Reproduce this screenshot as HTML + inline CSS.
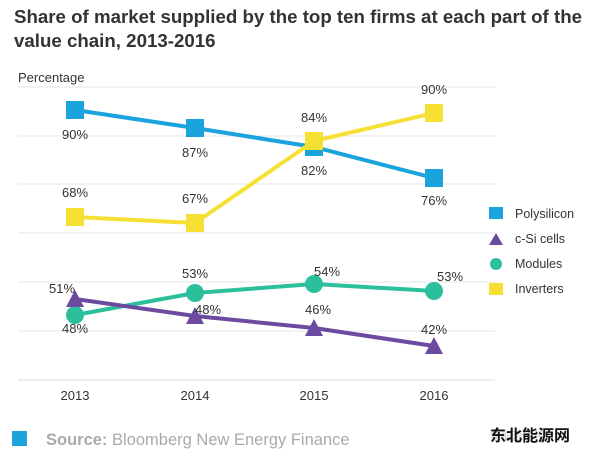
<!DOCTYPE html>
<html><head><style>
body{margin:0;background:#fff;width:600px;height:456px;overflow:hidden;font-family:"Liberation Sans","Noto Sans CJK SC",sans-serif}
</style></head><body>
<svg width="600" height="456" xmlns="http://www.w3.org/2000/svg" font-family="Liberation Sans, Noto Sans CJK SC, sans-serif">
<text x="14" y="23" font-size="18.7" font-weight="bold" fill="#333">Share of market supplied by the top ten firms at each part of the</text>
<text x="14" y="47" font-size="18.7" font-weight="bold" fill="#333">value chain, 2013-2016</text>
<text x="18" y="82" font-size="13" fill="#333">Percentage</text>
<g stroke="#e6e6e6" stroke-width="1">
<line x1="18" y1="87" x2="495" y2="87"/><line x1="18" y1="136" x2="495" y2="136"/>
<line x1="18" y1="184" x2="495" y2="184"/><line x1="18" y1="233" x2="495" y2="233"/>
<line x1="18" y1="282" x2="495" y2="282"/><line x1="18" y1="331" x2="495" y2="331"/>
<line x1="18" y1="380" x2="495" y2="380" stroke="#ddd"/>
</g>
<g font-size="13" fill="#333" text-anchor="middle">
<text x="75" y="400">2013</text><text x="195" y="400">2014</text><text x="314" y="400">2015</text><text x="434" y="400">2016</text>
</g>
<polyline points="75,110 195,128 314,147 434,178" fill="none" stroke="#1aa3dc" stroke-width="4"/>
<polyline points="75,217 195,223 314,141 434,113" fill="none" stroke="#f7e034" stroke-width="4"/>
<polyline points="75,315 195,293 314,284 434,291" fill="none" stroke="#2bbf9b" stroke-width="4"/>
<polyline points="75,299 195,316 314,328 434,346" fill="none" stroke="#6b4aa0" stroke-width="4"/>
<g fill="#1aa3dc"><rect x="66" y="101" width="18" height="18"/><rect x="186" y="119" width="18" height="18"/><rect x="305" y="138" width="18" height="18"/><rect x="425" y="169" width="18" height="18"/></g>
<g fill="#f7e034"><rect x="66" y="208" width="18" height="18"/><rect x="186" y="214" width="18" height="18"/><rect x="305" y="132" width="18" height="18"/><rect x="425" y="104" width="18" height="18"/></g>
<g fill="#2bbf9b"><circle cx="75" cy="315" r="9"/><circle cx="195" cy="293" r="9"/><circle cx="314" cy="284" r="9"/><circle cx="434" cy="291" r="9"/></g>
<g fill="#6b4aa0"><polygon points="75,290 66,307 84,307"/><polygon points="195,307 186,324 204,324"/><polygon points="314,319 305,336 323,336"/><polygon points="434,337 425,354 443,354"/></g>
<g font-size="13" fill="#333" text-anchor="middle">
<text x="75" y="139">90%</text><text x="195" y="157">87%</text><text x="314" y="175">82%</text><text x="434" y="205">76%</text>
<text x="75" y="197">68%</text><text x="195" y="203">67%</text><text x="314" y="122">84%</text><text x="434" y="94">90%</text>
<text x="75" y="333">48%</text><text x="195" y="278">53%</text><text x="327" y="276">54%</text><text x="450" y="281">53%</text>
<text x="62" y="293">51%</text><text x="208" y="314">48%</text><text x="318" y="314">46%</text><text x="434" y="334">42%</text>
</g>
<g font-size="12.5" fill="#333">
<rect x="489" y="207" width="14" height="12" fill="#1aa3dc"/><text x="515" y="218">Polysilicon</text>
<polygon points="496,233 489,245 503,245" fill="#6b4aa0"/><text x="515" y="243">c-Si cells</text>
<circle cx="496" cy="264" r="6" fill="#2bbf9b"/><text x="515" y="268">Modules</text>
<rect x="489" y="283" width="14" height="12" fill="#f7e034"/><text x="515" y="293">Inverters</text>
</g>
<rect x="12" y="431" width="15" height="15" fill="#1aa3dc"/>
<text x="46" y="445" font-size="16.5" fill="#aaa"><tspan font-weight="bold">Source:</tspan> Bloomberg New Energy Finance</text>
<text x="490" y="440" font-size="11" fill="#ccc">新能源财经</text>
<text x="490" y="441" font-size="16" fill="#111" font-weight="bold">东北能源网</text>
</svg>
</body></html>
